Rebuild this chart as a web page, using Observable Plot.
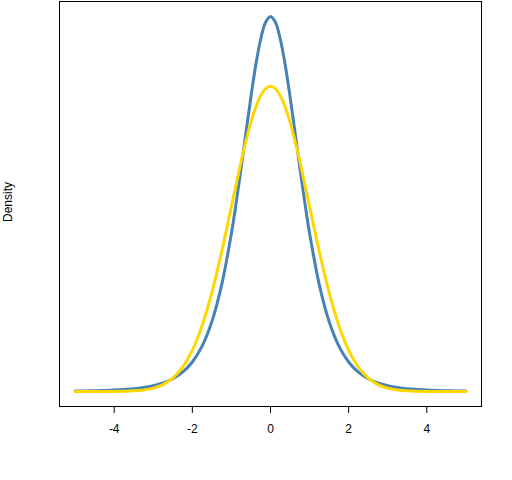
<!DOCTYPE html>
<html>
<head>
<meta charset="utf-8">
<script src="https://cdn.jsdelivr.net/npm/d3@7"></script>
<script src="https://cdn.jsdelivr.net/npm/@observablehq/plot@0.6"></script>
<style>
  html, body { margin: 0; padding: 0; background: #fff; }
</style>
</head>
<body>
<div id="chart"></div>
<script>
// x values (finer near the peak)
const xValues = [-5, -4.75, -4.5, -4.25, -4, -3.75, -3.5, -3.25, -3, -2.75, -2.5, -2.25, -2, -1.75, -1.5, -1.25, -1,
  -0.875, -0.75, -0.625, -0.5, -0.375, -0.25, -0.125,
  0, 0.125, 0.25, 0.375, 0.5, 0.625, 0.75, 0.875,
  1, 1.25, 1.5, 1.75, 2, 2.25, 2.5, 2.75, 3, 3.25, 3.5, 3.75, 4, 4.25, 4.5, 4.75, 5];

// steelblue curve (fat-tailed, higher peak)
const blueDensity = [0.0006, 0.0008, 0.00105, 0.0014, 0.0019, 0.0027, 0.0037, 0.0053, 0.0077, 0.0112, 0.0167, 0.0252, 0.0386, 0.0594, 0.0914, 0.1393, 0.2067,
  0.2478, 0.2927, 0.3395, 0.3855, 0.4272, 0.4607, 0.4825,
  0.4901, 0.4825, 0.4607, 0.4272, 0.3855, 0.3395, 0.2927, 0.2478,
  0.2067, 0.1393, 0.0914, 0.0594, 0.0386, 0.0252, 0.0167, 0.0112, 0.0077, 0.0053, 0.0037, 0.0027, 0.0019, 0.0014, 0.00105, 0.0008, 0.0006];

// gold curve (normal-looking)
const goldDensity = [0, 0, 0, 0, 0.0001, 0.0004, 0.0009, 0.002, 0.0044, 0.0091, 0.0175, 0.0317, 0.054, 0.0863, 0.1295, 0.1826, 0.242,
  0.2714, 0.3011, 0.328, 0.3521, 0.3719, 0.3867, 0.3958,
  0.3989, 0.3958, 0.3867, 0.3719, 0.3521, 0.328, 0.3011, 0.2714,
  0.242, 0.1826, 0.1295, 0.0863, 0.054, 0.0317, 0.0175, 0.0091, 0.0044, 0.002, 0.0009, 0.0004, 0.0001, 0, 0, 0, 0];

const xTicks = [-4, -2, 0, 2, 4];
const yLabel = "Density";

const blueData = xValues.map((x, i) => ({x, y: blueDensity[i]}));
const goldData = xValues.map((x, i) => ({x, y: goldDensity[i]}));

const yMax = d3.max([...blueDensity, ...goldDensity]);
const yMin = d3.min([...blueDensity, ...goldDensity]);
const yPad = (yMax - yMin) * 0.04;

const chart = Plot.plot({
  width: 512,
  height: 480,
  marginLeft: 59,
  marginRight: 31,
  marginTop: 1,
  marginBottom: 74,
  style: {fontFamily: "'Liberation Sans', Arial, sans-serif", fontSize: "12px", color: "black", background: "white"},
  x: {domain: [-5.4, 5.4], axis: null},
  y: {domain: [yMin - yPad, yMax + yPad], axis: null},
  marks: [
    Plot.line(blueData, {x: "x", y: "y", stroke: "steelblue", strokeWidth: 3, curve: "catmull-rom"}),
    Plot.line(goldData, {x: "x", y: "y", stroke: "gold", strokeWidth: 3, curve: "catmull-rom"}),
    Plot.frame({stroke: "black", strokeWidth: 1}),
    Plot.axisX({ticks: xTicks, tickSize: 7, tickPadding: 11, tickFormat: d => String(d), label: null, fontSize: 12, stroke: "black", fill: "black"}),
    Plot.text([yLabel], {frameAnchor: "left", dx: -51, dy: 18, rotate: -90, fontSize: 12, fill: "black", text: d => d})
  ]
});
document.getElementById("chart").appendChild(chart);
</script>
</body>
</html>
